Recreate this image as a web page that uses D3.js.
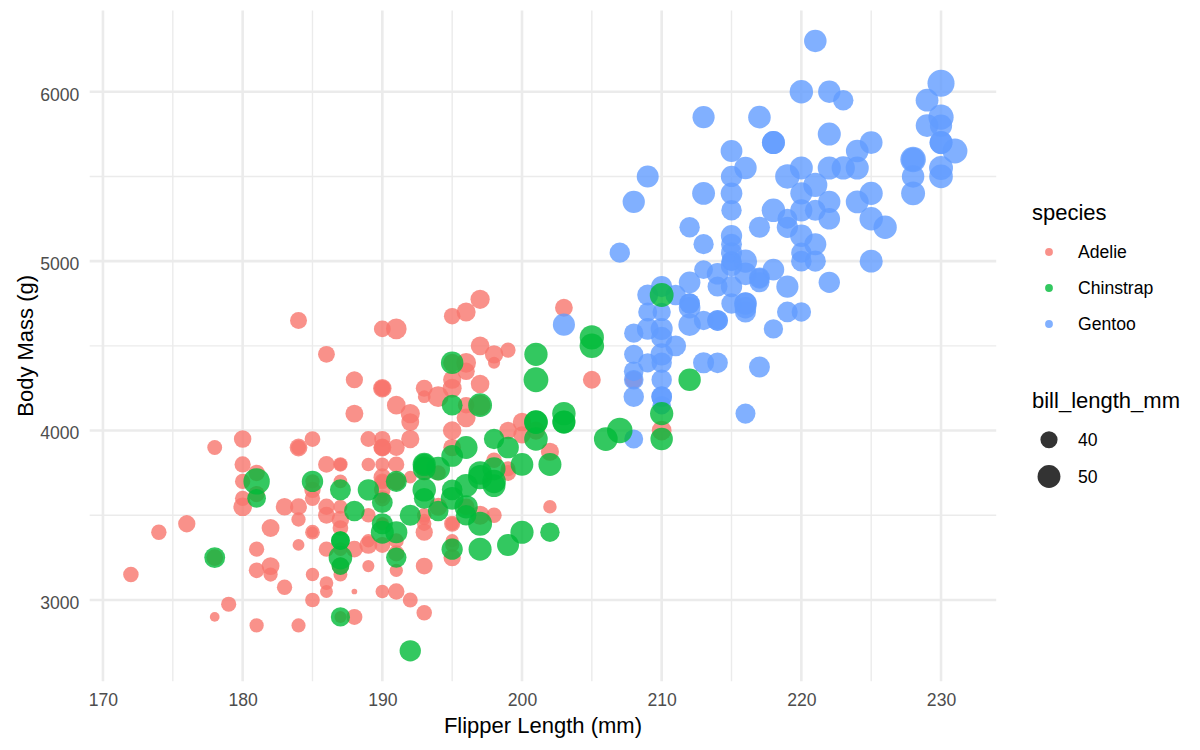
<!DOCTYPE html>
<html>
<head>
<meta charset="utf-8">
<script src="https://cdn.jsdelivr.net/npm/d3@7"></script>
<style>
  html, body { margin: 0; padding: 0; background: #fff; }
  svg { display: block; font-family: "Liberation Sans", Arial, sans-serif; }
</style>
</head>
<body>
<svg id="chart" width="1200" height="750"></svg>
<script>
// ---------------- DATA ----------------
const speciesNames = ["Adelie", "Chinstrap", "Gentoo"];
const speciesColors = ["#F8766D", "#00BA38", "#619CFF"];
const xTicks = [170, 180, 190, 200, 210, 220, 230];
const yTicks = [3000, 4000, 5000, 6000];
const sizeBreaks = [40, 50];

const adelieFlipper = [181,186,195,193,190,181,195,193,190,186,180,182,191,198,185,195,197,184,194,
174,180,189,185,180,187,183,187,172,180,
178,178,188,184,195,196,190,180,181,184,182,195,186,196,185,190,182,179,190,191,
186,188,190,200,187,191,186,193,181,194,185,195,185,192,184,192,195,188,
190,198,190,190,196,197,190,195,191,184,187,195,189,196,187,193,
191,194,190,189,189,190,202,205,185,186,187,208,190,196,178,192,
192,203,183,190,193,184,199,190,181,197,198,191,193,197,191,196,
188,199,189,189,187,198,176,202,186,199,191,195,191,210,190,197,
193,199,187,190,191,200,185,193,193,187,188,190,192,185,190,184,195,193,187,201];
const adelieMass = [3750,3800,3250,3450,3650,3625,4675,3475,4250,3300,3700,3200,3800,4400,3700,3450,4500,3325,4200,
3400,3600,3800,3950,3800,3800,3550,3200,3150,3950,
3250,3900,3300,3900,3325,4150,3950,3550,3300,4650,3150,3900,3100,4400,3000,4600,3425,2975,3450,4150,
3500,4300,3450,4050,2900,3700,3550,3800,2850,3750,3150,4400,3600,4050,2850,3950,3350,4100,
3050,4450,3600,3900,3550,4150,3700,4250,3700,3900,3550,4000,3200,4700,3800,4200,
3350,3550,3800,3500,3950,3600,3550,4300,3400,4450,3300,4300,3700,4350,2900,4100,
3725,4725,3075,4250,2925,3550,3750,3900,3175,4775,3825,4600,3200,4275,3900,4075,
2900,3775,3350,3325,3150,3500,3450,3875,3050,4000,3275,4300,3050,4000,3325,3500,
3500,4475,3425,3900,3175,3975,3400,4250,3400,3475,3050,3725,3000,3650,4250,3475,3450,3750,3700,4000];
const adelieBill = [39.1,39.5,40.3,36.7,39.3,38.9,39.2,34.1,42,37.8,37.8,41.1,38.6,34.6,36.6,38.7,42.5,34.4,46,
37.8,37.7,35.9,38.2,38.8,35.3,40.6,40.5,37.9,40.5,
39.5,37.2,39.5,40.9,36.4,39.2,38.8,42.2,37.6,39.8,36.5,40.8,36,44.1,37,39.6,41.1,37.5,36,42.3,
39.6,40.1,35,42,34.5,41.4,39,40.6,36.5,37.6,35.7,41.3,37.6,41.1,36.4,41.6,35.5,41.1,
35.9,41.8,33.5,39.7,39.6,45.8,35.5,42.8,40.9,37.2,36.2,42.1,34.6,42.9,36.7,35.1,
37.3,41.3,36.3,36.9,38.3,38.9,35.7,41.1,34,39.6,36.2,40.8,38.1,40.3,33.1,43.2,
35,41,37.7,37.8,37.9,39.7,38.6,38.2,38.1,43.2,38.1,45.6,39.7,42.2,39.6,42.7,
38.6,37.3,35.7,41.1,36.2,37.7,40.2,41.4,35.2,40.6,38.8,41.5,39,44.1,38.5,43.1,
36.8,37.5,38.1,41.1,35.6,40.2,37,39.7,40.2,40.6,32.1,40.7,37.3,39,39.2,36.6,36,37.8,36,41.5];

const gentooFlipper = [211,230,210,218,215,210,211,219,209,215,
214,216,214,213,210,217,210,221,209,222,
218,215,213,215,215,215,216,215,210,220,
222,209,207,230,220,220,213,219,208,208,
208,225,210,216,222,217,210,225,213,215,
210,220,210,225,217,220,208,220,208,224,
208,221,214,231,219,230,214,229,220,223,
216,221,221,217,216,230,209,220,215,223,
212,221,212,224,212,228,218,218,212,230,
218,228,212,224,214,226,216,222,203,225,
219,228,215,228,216,215,210,219,208,209,
216,229,213,230,217,230,217,222,214,215,
222,212,213];
const gentooMass = [4500,5700,4450,5700,5400,4550,4800,5200,4400,5150,
4650,5550,4650,5850,4200,5850,4150,6300,4800,5350,
5700,5000,4400,5050,5000,5100,4100,5650,4600,5550,
5250,4700,5050,6050,5150,5400,4950,5250,4350,5350,
3950,5700,4300,4750,5550,4900,4200,5400,5100,5300,
4850,5300,4400,5000,4900,5050,4300,5000,4450,5550,
4200,5300,4400,5650,4700,5700,4650,5800,4700,5550,
4750,5000,5100,5200,4700,5800,4600,6000,4750,5950,
4625,5450,4725,5350,4750,5600,4600,5300,4875,5550,
4950,5400,4750,5650,4850,5200,4925,4875,4625,5250,
4850,5600,4975,5500,4725,5500,4700,5500,4575,5500,
5000,5950,4650,5500,4375,5850,4875,6000,4925,4850,
5750,5200,5400];
const gentooBill = [46.1,50,48.7,50,47.6,46.5,45.4,46.7,43.3,46.8,
40.9,49,45.5,48.4,45.8,49.3,42,49.2,46.2,48.7,
50.2,45.1,46.5,46.3,42.9,46.1,44.5,47.8,48.2,50,
47.3,42.8,45.1,59.6,49.1,48.4,42.6,44.4,44,48.7,
42.7,49.6,45.3,49.6,50.5,43.6,45.5,50.5,44.9,45.2,
46.6,48.5,45.1,50.1,46.5,45,43.8,45.5,43.2,50.4,
45.3,46.2,45.7,54.3,45.8,49.8,46.2,49.5,43.5,50.7,
47.7,46.4,48.2,46.5,46.4,48.6,47.5,51.1,45.2,45.2,
49.1,52.5,47.4,50,44.9,50.8,43.4,51.3,47.5,52.1,
47.5,52.2,45.5,49.5,44.5,50.8,49.4,46.9,48.4,51.1,
48.5,55.9,47.2,49.1,47.3,46.8,41.7,53.4,43.3,48.1,
50.5,49.8,43.5,51.5,46.2,55.1,44.5,48.8,47.2,46.8,
50.4,45.2,49.9];

const chinstrapFlipper = [192,196,193,188,197,198,178,197,195,198,193,194,185,201,190,201,197,181,190,195,
181,191,187,193,195,197,200,200,191,205,187,201,187,203,195,199,195,210,192,205,
210,187,196,196,196,201,190,212,187,198,199,201,193,203,187,197,191,203,202,194,
206,189,195,207,202,193,210,198];
const chinstrapMass = [3500,3900,3650,3525,3725,3950,3250,3750,4150,3700,3800,3775,3700,4050,3575,4050,3300,3700,3450,4400,
3600,3400,2900,3800,3300,4150,3400,3800,3700,4550,3200,4300,3350,4100,3600,3900,3850,4800,2700,4500,
3950,3650,3550,3500,3675,4450,3400,4300,3250,3675,3325,3950,3600,4050,3350,3450,3250,4050,3800,3525,
3950,3650,3650,4000,3400,3775,4100,3775];
const chinstrapBill = [46.5,50,51.3,45.4,52.7,45.2,46.1,51.3,46,51.3,46.6,51.7,47,52,45.9,50.5,50.3,58,46.4,49.2,
42.4,48.5,43.2,50.6,46.7,52,50.5,49.5,46.4,52.8,40.9,54.2,42.5,51,49.7,47.5,47.6,52,46.9,53.5,
49,46.2,50.9,45.5,50.9,50.8,50.1,49,51.5,49.8,48.1,51.4,45.7,50.7,42.5,52.2,45.2,49.3,50.2,45.6,
51.9,46.8,45.7,55.8,43.5,49.6,50.8,50.2];

// ---------------- BUILD ROWS (ggplot draw order: Adelie, Gentoo, Chinstrap) ----------------
function rows(species, f, m, b) {
  const n = Math.min(f.length, m.length, b.length);
  return d3.range(n).map(i => ({ species, flipper: f[i], mass: m[i], bill: b[i] }));
}
const data = [].concat(
  rows("Adelie", adelieFlipper, adelieMass, adelieBill),
  rows("Gentoo", gentooFlipper, gentooMass, gentooBill),
  rows("Chinstrap", chinstrapFlipper, chinstrapMass, chinstrapBill)
);

// ---------------- LAYOUT ----------------
const svg = d3.select("#chart");
const panel = { left: 89.7, right: 996.2, top: 10.4, bottom: 681.3 };

const xExt = d3.extent(data, d => d.flipper);
const yExt = d3.extent(data, d => d.mass);
const xPad = (xExt[1] - xExt[0]) * 0.05;
const yPad = (yExt[1] - yExt[0]) * 0.05;

const x = d3.scaleLinear().domain([xExt[0] - xPad, xExt[1] + xPad]).range([panel.left, panel.right]);
const y = d3.scaleLinear().domain([yExt[0] - yPad, yExt[1] + yPad]).range([panel.bottom, panel.top]);
const color = d3.scaleOrdinal().domain(speciesNames).range(speciesColors);

// ggplot-like area size scale: rescale to [0,1], sqrt, then map to size [1,6]
const bExt = d3.extent(data, d => d.bill);
const rescale01 = d3.scaleLinear().domain(bExt).range([0, 1]).clamp(true);
const ggSize = v => 1 + 5 * Math.sqrt(rescale01(v));
const radius = s => 2.134 * s + 0.71;

// ---------------- GRID ----------------
const grid = svg.append("g");
const xMinor = d3.range(165, 240, 10).filter(v => v > x.domain()[0] && v < x.domain()[1]);
const yMinor = d3.range(2500, 7000, 1000).filter(v => v > y.domain()[0] && v < y.domain()[1]);

grid.selectAll(".xminor").data(xMinor).join("line")
  .attr("x1", d => x(d)).attr("x2", d => x(d))
  .attr("y1", panel.top).attr("y2", panel.bottom)
  .attr("stroke", "#EBEBEB").attr("stroke-width", 1.4);
grid.selectAll(".yminor").data(yMinor).join("line")
  .attr("y1", d => y(d)).attr("y2", d => y(d))
  .attr("x1", panel.left).attr("x2", panel.right)
  .attr("stroke", "#EBEBEB").attr("stroke-width", 1.4);
grid.selectAll(".xmajor").data(xTicks).join("line")
  .attr("x1", d => x(d)).attr("x2", d => x(d))
  .attr("y1", panel.top).attr("y2", panel.bottom)
  .attr("stroke", "#EBEBEB").attr("stroke-width", 2.6);
grid.selectAll(".ymajor").data(yTicks).join("line")
  .attr("y1", d => y(d)).attr("y2", d => y(d))
  .attr("x1", panel.left).attr("x2", panel.right)
  .attr("stroke", "#EBEBEB").attr("stroke-width", 2.6);

// ---------------- AXES ----------------
const xAxis = svg.append("g")
  .attr("transform", `translate(0,${panel.bottom})`)
  .call(d3.axisBottom(x).tickValues(xTicks).tickFormat(d3.format("d")).tickSize(0).tickPadding(12.2));
xAxis.select(".domain").remove();
xAxis.selectAll("text").attr("font-size", 17.6).attr("fill", "#4D4D4D")
  .attr("font-family", "Liberation Sans, Arial, sans-serif");

const yAxis = svg.append("g")
  .attr("transform", `translate(${panel.left},0)`)
  .call(d3.axisLeft(y).tickValues(yTicks).tickFormat(d3.format("d")).tickSize(0).tickPadding(10.4));
yAxis.select(".domain").remove();
yAxis.selectAll("text").attr("font-size", 17.6).attr("fill", "#4D4D4D").attr("dy", "0.47em")
  .attr("font-family", "Liberation Sans, Arial, sans-serif");

svg.append("text")
  .attr("x", (panel.left + panel.right) / 2).attr("y", 733.3)
  .attr("text-anchor", "middle").attr("font-size", 22).attr("fill", "#000")
  .text("Flipper Length (mm)");
svg.append("text")
  .attr("transform", `translate(33.3,${(panel.top + panel.bottom) / 2}) rotate(-90)`)
  .attr("text-anchor", "middle").attr("font-size", 22).attr("fill", "#000")
  .text("Body Mass (g)");

// ---------------- POINTS ----------------
svg.append("g").selectAll("circle").data(data).join("circle")
  .attr("cx", d => x(d.flipper))
  .attr("cy", d => y(d.mass))
  .attr("r", d => radius(ggSize(d.bill)))
  .attr("fill", d => color(d.species))
  .attr("fill-opacity", 0.8);

// ---------------- LEGENDS ----------------
const leg = svg.append("g");
const keyX = 1049, labX = 1078;
leg.append("text").attr("x", 1032).attr("y", 220).attr("font-size", 22).attr("fill", "#000").text("species");
const speciesY = d3.scalePoint().domain(speciesNames).range([252, 324]);
leg.selectAll(".skey").data(speciesNames).join("circle")
  .attr("cx", keyX).attr("cy", d => speciesY(d))
  .attr("r", radius(1.5)).attr("fill", d => color(d)).attr("fill-opacity", 0.8);
leg.selectAll(".slab").data(speciesNames).join("text")
  .attr("x", labX).attr("y", d => speciesY(d) + 6.3)
  .attr("font-size", 17.6).attr("fill", "#000").text(d => d);

leg.append("text").attr("x", 1032).attr("y", 408).attr("font-size", 22).attr("fill", "#000").text("bill_length_mm");
const sizeY = d3.scalePoint().domain(sizeBreaks).range([439.7, 476.5]);
leg.selectAll(".zkey").data(sizeBreaks).join("circle")
  .attr("cx", keyX).attr("cy", d => sizeY(d))
  .attr("r", d => radius(ggSize(d))).attr("fill", "#000").attr("fill-opacity", 0.8);
leg.selectAll(".zlab").data(sizeBreaks).join("text")
  .attr("x", labX).attr("y", d => sizeY(d) + 6.3)
  .attr("font-size", 17.6).attr("fill", "#000").text(d => d);
</script>
</body>
</html>
